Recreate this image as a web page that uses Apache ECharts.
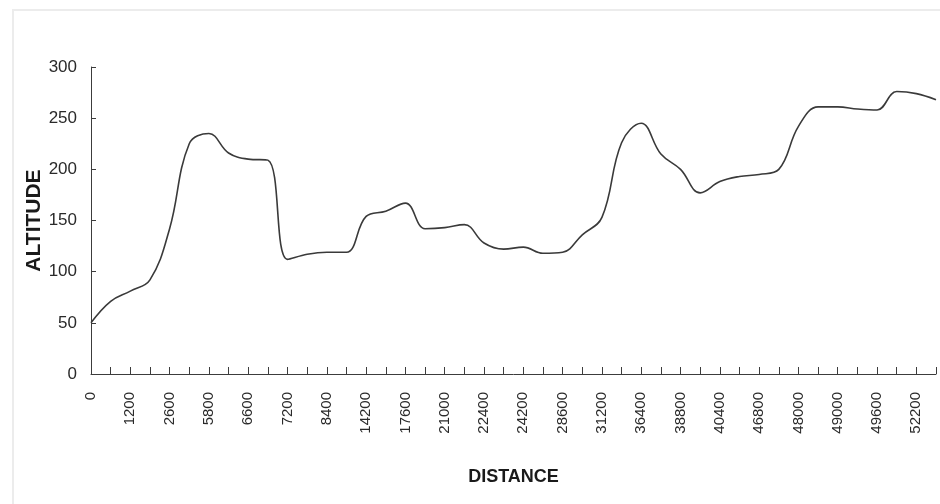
<!DOCTYPE html>
<html>
<head>
<meta charset="utf-8">
<script src="https://cdn.jsdelivr.net/npm/echarts@6/dist/echarts.min.js"></script>
<style>
html,body{margin:0;padding:0;background:#fff;}
#main{width:940px;height:504px;}
</style>
</head>
<body>
<div id="main"></div>
<script>
// Distance categories (only every other one is labelled in the chart)
const distances = ['0','600','1200','1800','2600','4200','5800','6200','6600','7000','7200','7800','8400','11000','14200','15800','17600','19200','21000','21800','22400','23200','24200','26000','28600','30000','31200','33600','36400','37400','38800','39600','40400','43200','46800','47400','48000','48400','49000','49200','49600','50800','52200','53400'];
// Altitude values
const altitude = [50, 71, 81, 92, 142, 225, 235, 216, 210, 209, 112, 117, 119, 119, 154, 159, 167, 142, 143, 146, 128, 122, 124, 118, 119, 136, 153, 226, 245, 215, 200, 177, 188, 193, 195, 200, 242, 261, 261, 259, 258, 276, 274, 268];
const yTicks = { min: 0, max: 300, interval: 50 };
const xTitle = 'DISTANCE';
const yTitle = 'ALTITUDE';

const chart = echarts.init(document.getElementById('main'), null, {renderer: 'canvas'});
const axisColor = '#3c3c3c';
chart.setOption({
  backgroundColor: '#ffffff',
  animation: false,
  graphic: [{
    type: 'rect', silent: true, z: -1,
    shape: { x: 13, y: 10, width: 940, height: 500 },
    style: { fill: 'none', stroke: '#ececec', lineWidth: 2 }
  }],
  grid: { left: 91, right: 4, top: 67, bottom: 130, containLabel: false },
  xAxis: {
    type: 'category',
    data: distances,
    boundaryGap: false,
    name: xTitle,
    nameLocation: 'middle',
    nameGap: 94,
    nameMoveOverlap: false,
    nameTextStyle: { fontFamily: 'Liberation Sans, Arial', fontWeight: 'bold', fontSize: 18, color: '#1a1a1a' },
    axisLine: { lineStyle: { color: axisColor, width: 1 } },
    axisTick: { inside: true, length: 7, interval: 0, alignWithLabel: true, lineStyle: { color: axisColor } },
    axisLabel: { interval: 1, rotate: 90, margin: 18, fontFamily: 'Liberation Sans, Arial', fontSize: 15, color: '#2a2a2a' },
    splitLine: { show: false }
  },
  yAxis: {
    type: 'value',
    min: yTicks.min, max: yTicks.max, interval: yTicks.interval,
    name: yTitle,
    nameLocation: 'middle',
    nameRotate: 90,
    nameGap: 46,
    nameMoveOverlap: false,
    nameTextStyle: { fontFamily: 'Liberation Sans, Arial', fontWeight: 'bold', fontSize: 21, color: '#1a1a1a' },
    axisLine: { show: true, lineStyle: { color: axisColor, width: 1 } },
    axisTick: { show: true, inside: true, length: 5, lineStyle: { color: axisColor } },
    axisLabel: { margin: 14, fontFamily: 'Liberation Sans, Arial', fontSize: 17, color: '#2a2a2a' },
    splitLine: { show: false }
  },
  series: [{
    type: 'line',
    data: altitude,
    smooth: 0.4,
    showSymbol: false,
    lineStyle: { color: '#3a3a3a', width: 1.6 }
  }]
});
</script>
</body>
</html>
